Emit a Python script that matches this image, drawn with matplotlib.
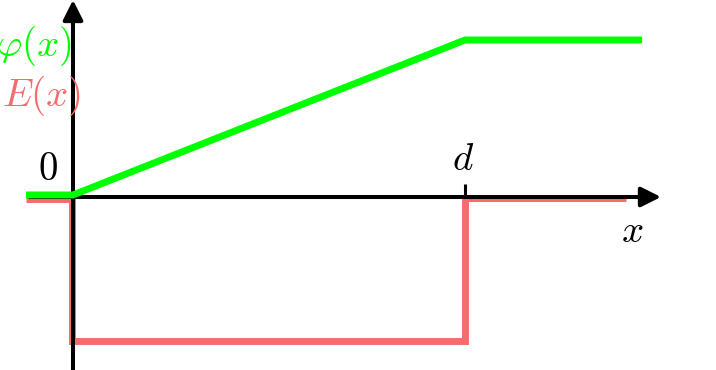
import matplotlib
matplotlib.use('Agg')
import matplotlib.pyplot as plt

plt.rcParams['mathtext.fontset'] = 'cm'

# potential phi(x) and field E(x), x in units of d
phi_x = [-0.12, 0.0, 1.0, 1.452]
phi_y = [0.013, 0.013, 1.0, 1.0]
E_x = [-0.12, -0.003, -0.003, 1.0, 1.0, 1.41]
E_y = [-0.013, -0.013, -0.92, -0.92, -0.005, -0.005]

green = '#00ff00'
red = '#f46d6d'

fig = plt.figure(figsize=(7.16, 3.70), dpi=100)
ax = fig.add_axes([0, 0, 1, 1])
ax.set_xlim(-73 / 392, 643 / 392)
ax.set_ylim(-173 / 157, 197 / 157)
ax.axis('off')

ax.plot(E_x, E_y, color=red, lw=5, solid_joinstyle='miter',
        solid_capstyle='butt', zorder=2)

# axes with arrow heads
arrow = dict(arrowstyle='-|>', lw=2.9, color='k', mutation_scale=30,
             shrinkA=0, shrinkB=0)
ax.annotate('', xy=(1.50, 0), xytext=(-0.11, 0), arrowprops=arrow, zorder=3)
ax.annotate('', xy=(0, 1.255), xytext=(0, -1.11), arrowprops=arrow, zorder=3)
ax.plot([1, 1], [0, 0.083], color='k', lw=2.2, solid_capstyle='butt', zorder=3)

ax.plot(phi_x, phi_y, color=green, lw=5, solid_joinstyle='miter',
        solid_capstyle='butt', zorder=4)

fs = 28
ax.text(-0.064, 0.178, r'$0$', fontsize=fs, ha='center', va='center')
ax.text(0.995, 0.242, r'$d$', fontsize=fs, ha='center', va='center')
ax.text(1.426, -0.217, r'$x$', fontsize=fs, ha='center', va='center')
ax.text(-0.003, 0.962, r'$\varphi(x)$', fontsize=fs, color=green,
        ha='right', va='center')
ax.text(0.022, 0.643, r'$E(x)$', fontsize=fs, color=red,
        ha='right', va='center')

fig.savefig('out.png', dpi=100)
